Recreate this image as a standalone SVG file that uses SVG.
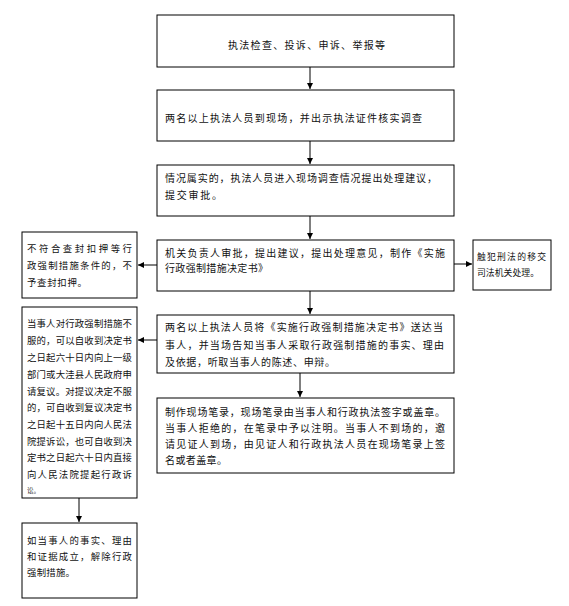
<svg xmlns="http://www.w3.org/2000/svg" width="569" height="606" viewBox="0 0 569 606">
<style>
.box{fill:#fff;stroke:#000;stroke-width:1}
text{font-family:"Noto Sans CJK SC","Noto Sans CJK TC",sans-serif;font-size:10px;fill:#111}
.s{font-size:9.4px}
.r{font-size:8.8px}
.ln{stroke:#000;stroke-width:1;fill:none}
</style>
<defs>
<marker id="ah" markerWidth="7" markerHeight="7" refX="6" refY="3.5" orient="auto" markerUnits="userSpaceOnUse">
<path d="M0,0.5 L6,3.5 L0,6.5 Z" fill="#000"/>
</marker>
</defs>
<rect width="569" height="606" fill="#fff"/>
<g id="connectors">
<line class="ln" x1="310" y1="67" x2="310" y2="89" marker-end="url(#ah)"/>
<line class="ln" x1="310" y1="141" x2="310" y2="164" marker-end="url(#ah)"/>
<line class="ln" x1="310" y1="216" x2="310" y2="239" marker-end="url(#ah)"/>
<line class="ln" x1="157" y1="265" x2="138" y2="265" marker-end="url(#ah)"/>
<line class="ln" x1="454" y1="264" x2="472" y2="264" marker-end="url(#ah)"/>
<line class="ln" x1="310" y1="291" x2="310" y2="314" marker-end="url(#ah)"/>
<line class="ln" x1="157" y1="340" x2="138" y2="340" marker-end="url(#ah)"/>
<line class="ln" x1="300" y1="373" x2="300" y2="397" marker-end="url(#ah)"/>
<line class="ln" x1="79" y1="498" x2="79" y2="522" marker-end="url(#ah)"/>
</g>
<g id="n1">
<rect class="box" x="157" y="15" width="297" height="52"/>
<text x="228" y="49" textLength="157" lengthAdjust="spacing">执法检查、投诉、申诉、举报等</text>
</g>
<g id="n2">
<rect class="box" x="157" y="90" width="297" height="51"/>
<text x="165" y="122" textLength="257" lengthAdjust="spacing">两名以上执法人员到现场，并出示执法证件核实调查</text>
</g>
<g id="n3">
<rect class="box" x="157" y="165" width="297" height="51"/>
<text x="165" y="182" textLength="272" lengthAdjust="spacing">情况属实的，执法人员进入现场调查情况提出处理建议，</text>
<text x="165" y="199" textLength="57" lengthAdjust="spacing">提交审批。</text>
</g>
<g id="n4">
<rect class="box" x="157" y="240" width="297" height="51"/>
<text x="165" y="257" textLength="280" lengthAdjust="spacing">机关负责人审批，提出建议，提出处理意见，制作《实施</text>
<text x="165" y="272" textLength="103" lengthAdjust="spacing">行政强制措施决定书》</text>
</g>
<g id="n5">
<rect class="box" x="22" y="232" width="115" height="66"/>
<text class="s" x="27" y="252" textLength="105" lengthAdjust="spacing">不符合查封扣押等行</text>
<text class="s" x="27" y="269" textLength="105" lengthAdjust="spacing">政强制措施条件的，不</text>
<text class="s" x="27" y="286" textLength="60" lengthAdjust="spacing">予查封扣押。</text>
</g>
<g id="n6">
<rect class="box" x="473" y="240" width="78" height="50"/>
<text class="r" x="477" y="260" textLength="69" lengthAdjust="spacing">触犯刑法的移交</text>
<text class="r" x="477" y="276" textLength="62" lengthAdjust="spacing">司法机关处理。</text>
</g>
<g id="n7">
<rect class="box" x="157" y="315" width="297" height="58"/>
<text x="165" y="331" textLength="278" lengthAdjust="spacing">两名以上执法人员将《实施行政强制措施决定书》送达当</text>
<text x="165" y="349" textLength="279" lengthAdjust="spacing">事人，并当场告知当事人采取行政强制措施的事实、理由</text>
<text x="165" y="366" textLength="170" lengthAdjust="spacing">及依据，听取当事人的陈述、申辩。</text>
</g>
<g id="n8">
<rect class="box" x="157" y="398" width="297" height="75"/>
<text x="165" y="415.5" textLength="280" lengthAdjust="spacing">制作现场笔录，现场笔录由当事人和行政执法签字或盖章。</text>
<text x="165" y="431.5" textLength="280" lengthAdjust="spacing">当事人拒绝的，在笔录中予以注明。当事人不到场的，邀</text>
<text x="165" y="447.5" textLength="280" lengthAdjust="spacing">请见证人到场，由见证人和行政执法人员在现场笔录上签</text>
<text x="165" y="464" textLength="62" lengthAdjust="spacing">名或者盖章。</text>
</g>
<g id="n9">
<rect class="box" x="22" y="307" width="115" height="191"/>
<text class="s" x="27" y="327" textLength="105" lengthAdjust="spacing">当事人对行政强制措施不</text>
<text class="s" x="27" y="344" textLength="105" lengthAdjust="spacing">服的，可以自收到决定书</text>
<text class="s" x="27" y="361" textLength="105" lengthAdjust="spacing">之日起六十日内向上一级</text>
<text class="s" x="27" y="378" textLength="105" lengthAdjust="spacing">部门或大洼县人民政府申</text>
<text class="s" x="27" y="395" textLength="105" lengthAdjust="spacing">请复议。对提议决定不服</text>
<text class="s" x="27" y="411" textLength="105" lengthAdjust="spacing">的，可自收到复议决定书</text>
<text class="s" x="27" y="428" textLength="105" lengthAdjust="spacing">之日起十五日内向人民法</text>
<text class="s" x="27" y="445" textLength="105" lengthAdjust="spacing">院提诉讼，也可自收到决</text>
<text class="s" x="27" y="461" textLength="105" lengthAdjust="spacing">定书之日起六十日内直接</text>
<text class="s" x="27" y="478" textLength="105" lengthAdjust="spacing">向人民法院提起行政诉</text>
<text x="27" y="493" style="font-size:6.5px">讼。</text>
</g>
<g id="n10">
<rect class="box" x="22" y="523" width="115" height="75"/>
<text class="s" x="27" y="544" textLength="105" lengthAdjust="spacing">如当事人的事实、理由</text>
<text class="s" x="27" y="560" textLength="105" lengthAdjust="spacing">和证据成立，解除行政</text>
<text class="s" x="27" y="576" textLength="48" lengthAdjust="spacing">强制措施。</text>
</g>
</svg>
